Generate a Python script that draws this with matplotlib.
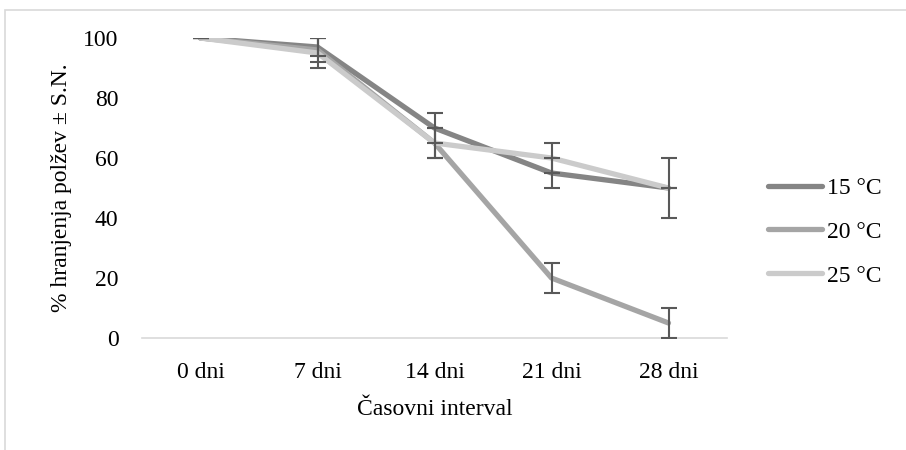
"""Line chart: % hranjenja polžev over time at three temperatures."""

import matplotlib
matplotlib.use("Agg")
import matplotlib.pyplot as plt
from matplotlib.patches import Rectangle

categories = ["0 dni", "7 dni", "14 dni", "21 dni", "28 dni"]
series_names = ["15 °C", "20 °C", "25 °C"]
t15 = [100, 97, 70, 55, 50]
t20 = [100, 96, 65, 20, 5]
t25 = [100, 95, 65, 60, 50]
err15 = [0, 3, 5, 5, 10]
err20 = [0, 4, 5, 5, 5]
err25 = [0, 5, 5, 5, 0]

colors = ["#858585", "#a5a5a5", "#cbcbcb"]
err_color = "#595959"

plt.rcParams["font.family"] = ["Liberation Serif", "DejaVu Serif"]

fig = plt.figure(figsize=(9.06, 4.5), dpi=100)
ax = fig.add_axes([142 / 906, 1 - 338 / 450, 585 / 906, 300 / 450])

# light chart-area border (runs off the right and bottom edges)
fig.patches.append(Rectangle((4.5 / 906, -0.2), 1.2, 1 - 9.5 / 450 + 0.2,
                             transform=fig.transFigure, fill=False,
                             edgecolor="#d9d9d9", linewidth=1.2))

x = list(range(len(categories)))
for vals, errs, name, c in zip([t15, t20, t25], [err15, err20, err25],
                               series_names, colors):
    ax.plot(x, vals, color=c, linewidth=3.8, solid_capstyle="round",
            solid_joinstyle="round", label=name, zorder=2)
    ax.errorbar(x, vals, yerr=errs, fmt="none", ecolor=err_color,
                elinewidth=1.5, capsize=6, capthick=1.5, zorder=3)

ax.set_xlim(-0.5, len(categories) - 0.5)
ax.set_ylim(0, 100)
ax.set_xticks(x)
ax.set_xticklabels(categories)
ax.set_yticks(range(0, 101, 20))
ax.tick_params(length=0, labelsize=17)
ax.tick_params(axis="x", pad=17)
ax.tick_params(axis="y", pad=17)

for s in ["top", "right", "left"]:
    ax.spines[s].set_visible(False)
ax.spines["bottom"].set_color("#d9d9d9")
ax.spines["bottom"].set_linewidth(1.2)

ax.set_xlabel("Časovni interval", fontsize=17, labelpad=12)
ax.set_ylabel("% hranjenja polžev ± S.N.", fontsize=17, labelpad=8)

ax.legend(loc="center left", bbox_to_anchor=(768 / 906, 1 - 232 / 450),
          bbox_transform=fig.transFigure, frameon=False,
          fontsize=17, handlelength=2.3, handletextpad=0.2,
          labelspacing=0.95, borderaxespad=0, borderpad=0)

fig.savefig("out.png", dpi=100)
